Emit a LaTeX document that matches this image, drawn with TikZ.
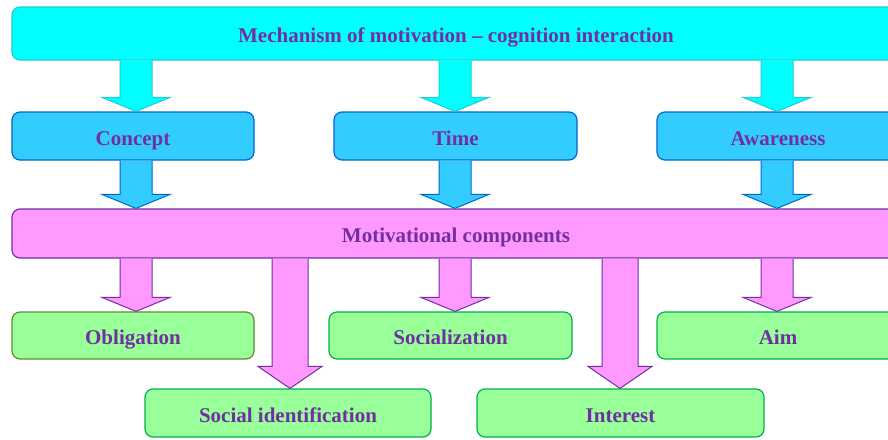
\documentclass[tikz,border=0pt]{standalone}
\usepackage{fontspec}
\setmainfont{Liberation Serif}
\newfontfamily\lbfont{Liberation Serif}[UprightFont={* Bold},Ligatures=TeX]
\usetikzlibrary{calc}
\definecolor{txt}{HTML}{7030A0}
\definecolor{cyfill}{HTML}{00FFFF}
\definecolor{cyline}{HTML}{20CCCC}
\definecolor{blfill}{HTML}{33CCFF}
\definecolor{blline}{HTML}{0066CC}
\definecolor{pkfill}{HTML}{FF99FF}
\definecolor{pkline}{HTML}{7030A0}
\definecolor{grfill}{HTML}{99FF99}
\definecolor{grline}{HTML}{00B050}
\definecolor{olline}{HTML}{5F8A3A}
\tikzset{
  box/.style={rounded corners=8pt, line width=1.2pt, inner sep=0pt,
    font=\lbfont\fontsize{21}{24}\selectfont, text=txt,
    text height=18pt, text depth=0pt},
  cybox/.style={box, fill=cyfill, draw=cyline},
  blbox/.style={box, fill=blfill, draw=blline},
  pkbox/.style={box, fill=pkfill, draw=pkline},
  grbox/.style={box, fill=grfill, draw=grline},
  cyarrow/.style={fill=cyfill, draw=cyline, line width=1pt, line join=miter},
  blarrow/.style={fill=blfill, draw=blline, line width=1pt, line join=miter},
  pkarrow/.style={fill=pkfill, draw=pkline, line width=1pt, line join=miter},
}
% block arrow: style, start coordinate, end coordinate, shaft half width, head half width, head length
\newcommand\blockarrow[6]{%
  \filldraw[#1] let \p1=#2, \p2=#3 in
    (\x1-#4pt,\y1) -- (\x1-#4pt,\y2+#6pt) -- (\x1-#5pt,\y2+#6pt) -- (\x1,\y2)
    -- (\x1+#5pt,\y2+#6pt) -- (\x1+#4pt,\y2+#6pt) -- (\x1+#4pt,\y1);
}
\begin{document}
\begin{tikzpicture}[x=1pt,y=-1pt]
\useasboundingbox (0,0) rectangle (888,439);
\clip (0,0) rectangle (888,439);

\node[cybox, minimum width=888pt, minimum height=53pt] (top) at (456,33.5) {Mechanism of motivation – cognition interaction};

\node[blbox, minimum width=242pt, minimum height=48pt] (concept) at (133,136) {Concept};
\node[blbox, minimum width=243pt, minimum height=48pt] (time) at (455.5,136) {Time};
\node[blbox, minimum width=242pt, minimum height=48pt] (aware) at (778,136) {Awareness};

\node[pkbox, minimum width=888pt, minimum height=49pt] (mot) at (456,233.5) {Motivational components};

\node[grbox, draw=olline, minimum width=242pt, minimum height=47pt] (oblig) at (133,335.5) {Obligation};
\node[grbox, minimum width=243pt, minimum height=47pt] (social) at (450.5,335.5) {Socialization};
\node[grbox, minimum width=242pt, minimum height=47pt] (aim) at (778,335.5) {Aim};
\node[grbox, minimum width=286pt, minimum height=48pt] (socid) at (288,413) {Social identification};
\node[grbox, minimum width=287pt, minimum height=48pt] (inter) at (620.5,413) {Interest};

\coordinate (xa) at (136,0);
\coordinate (xb) at (455,0);
\coordinate (xc) at (777,0);
\coordinate (xd) at (290,0);
\coordinate (xe) at (620,0);

\blockarrow{cyarrow}{(xa |- top.south)}{(xa |- concept.north)}{16}{34}{14}
\blockarrow{cyarrow}{(xb |- top.south)}{(xb |- time.north)}{16}{34}{14}
\blockarrow{cyarrow}{(xc |- top.south)}{(xc |- aware.north)}{16}{34}{14}

\blockarrow{blarrow}{(xa |- concept.south)}{(xa |- mot.north)}{16}{34}{14}
\blockarrow{blarrow}{(xb |- time.south)}{(xb |- mot.north)}{16}{34}{14}
\blockarrow{blarrow}{(xc |- aware.south)}{(xc |- mot.north)}{16}{34}{14}

\blockarrow{pkarrow}{(xa |- mot.south)}{(xa |- oblig.north)}{16}{34}{14}
\blockarrow{pkarrow}{(xb |- mot.south)}{(xb |- social.north)}{16}{34}{14}
\blockarrow{pkarrow}{(xc |- mot.south)}{(xc |- aim.north)}{16}{34}{14}
\blockarrow{pkarrow}{(xd |- mot.south)}{(xd |- socid.north)}{18}{32}{22}
\blockarrow{pkarrow}{(xe |- mot.south)}{(xe |- inter.north)}{18}{32}{22}
\end{tikzpicture}
\end{document}
